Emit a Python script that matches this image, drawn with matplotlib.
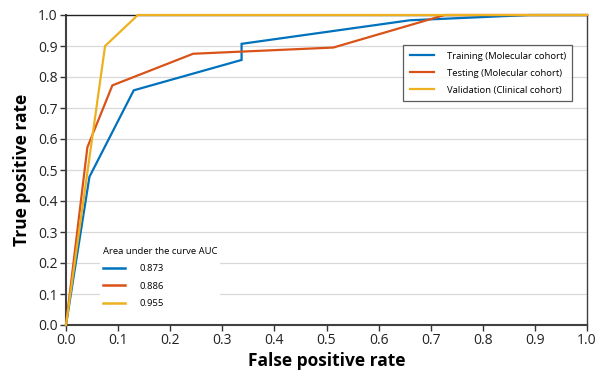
import matplotlib
matplotlib.use("Agg")
import matplotlib.pyplot as plt
from matplotlib.lines import Line2D

plt.rcParams['font.family'] = ['Open Sans', 'DejaVu Sans']

# Data
train_fpr = [0.0, 0.045, 0.13, 0.337, 0.337, 0.66, 0.89, 1.0]
train_tpr = [0.0, 0.478, 0.757, 0.855, 0.907, 0.983, 1.0, 1.0]
test_fpr = [0.0, 0.041, 0.089, 0.244, 0.513, 0.727, 1.0]
test_tpr = [0.0, 0.573, 0.773, 0.875, 0.895, 1.0, 1.0]
valid_fpr = [0.0, 0.075, 0.138, 1.0]
valid_tpr = [0.0, 0.90, 1.0, 1.0]
series_labels = ["Training (Molecular cohort)", "Testing (Molecular cohort)", "Validation (Clinical cohort)"]
auc_values = ["0.873", "0.886", "0.955"]
colors = ["#0072BD", "#D95319", "#EDB120"]
ticks = [0.0, 0.1, 0.2, 0.3, 0.4, 0.5, 0.6, 0.7, 0.8, 0.9, 1.0]

fig = plt.figure(figsize=(5.99, 3.73), dpi=100)
ax = fig.add_axes([66/599, 48/373, 521/599, 310/373])

for t in ticks[1:-1]:
    ax.axhline(t, color="#d9d9d9", lw=0.9, zorder=0)

xs = [train_fpr, test_fpr, valid_fpr]
ys = [train_tpr, test_tpr, valid_tpr]
handles = []
for x, y, c, lab in zip(xs, ys, colors, series_labels):
    h, = ax.plot(x, y, color=c, lw=1.6, label=lab, zorder=3,
                 solid_joinstyle='miter', clip_on=False)
    handles.append(h)

ax.set_xlim(0, 1)
ax.set_ylim(0, 1)
ax.set_xticks(ticks)
ax.set_yticks(ticks)
ax.set_xticklabels([f"{t:.1f}" for t in ticks])
ax.set_yticklabels([f"{t:.1f}" for t in ticks])
ax.tick_params(axis='both', direction='out', length=4, width=1, color="#333333",
               labelsize=10, labelcolor="#222222", pad=2)

for s in ['left', 'bottom']:
    ax.spines[s].set_color("#404040")
    ax.spines[s].set_linewidth(1.5)
ax.spines['right'].set_color("#404040")
ax.spines['right'].set_linewidth(1.0)
ax.spines['top'].set_color("#222222")
ax.spines['top'].set_linewidth(1.0)
for s in ax.spines.values():
    s.set_zorder(2)

ax.set_xlabel("False positive rate", fontsize=12.5, fontweight='bold', labelpad=3)
ax.set_ylabel("True positive rate", fontsize=12.5, fontweight='bold', labelpad=5)

leg1 = ax.legend(handles=handles, loc='upper right', bbox_to_anchor=(0.972, 0.903),
                 fontsize=6.8, frameon=True, fancybox=False, edgecolor="#333333",
                 handlelength=2.6, handletextpad=1.3, labelspacing=0.85,
                 borderpad=0.7, borderaxespad=0)
leg1.get_frame().set_linewidth(0.9)
leg1.set_zorder(5)
ax.add_artist(leg1)

auc_handles = [Line2D([0], [0], color=c, lw=1.8) for c in colors]
leg2 = ax.legend(handles=auc_handles, labels=auc_values, loc='upper left',
                 bbox_to_anchor=(0.065, 0.262), title="Area under the curve AUC",
                 title_fontsize=6.8, fontsize=6.8, frameon=True, edgecolor='none',
                 facecolor='white', framealpha=1, fancybox=False,
                 handlelength=2.4, handletextpad=1.5, labelspacing=0.9,
                 borderpad=0.3, borderaxespad=0, alignment='left')
leg2.set_zorder(1)

fig.savefig("out.png", dpi=100)
